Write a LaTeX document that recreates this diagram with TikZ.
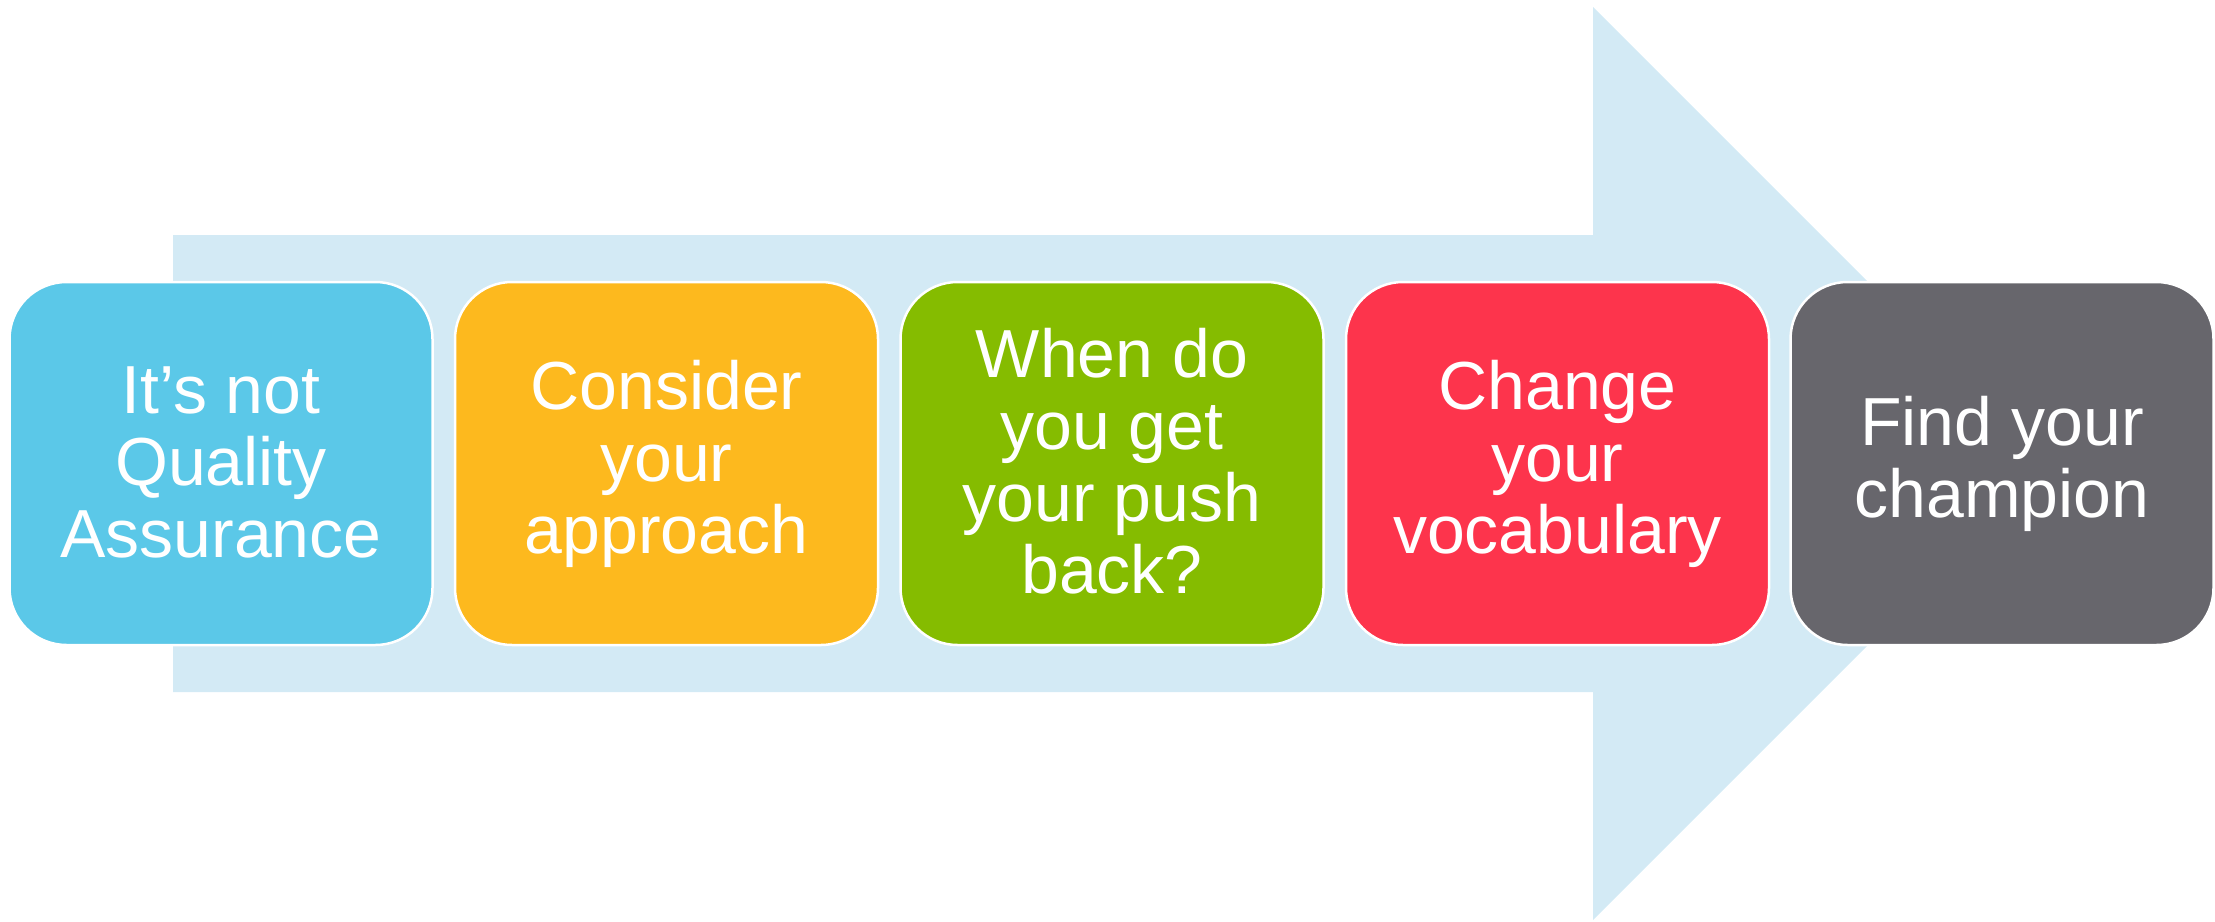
\documentclass[tikz,border=0pt]{standalone}
\usepackage{fontspec}
\setmainfont{Liberation Sans}
\definecolor{arrowblue}{HTML}{D3EAF5}
\definecolor{cblue}{HTML}{5BC8E8}
\definecolor{corange}{HTML}{FDB91E}
\definecolor{cgreen}{HTML}{85BC00}
\definecolor{cred}{HTML}{FD344C}
\definecolor{cgrey}{HTML}{67666C}
\newcommand{\fs}{\rule[-7pt]{0pt}{57pt}}
\tikzset{
  stepbox/.style={draw=white, line width=2.5pt, rounded corners=57pt,
    minimum width=423pt, minimum height=363pt, inner sep=0pt,
    align=center, text=white,
    font=\fontsize{68}{72}\selectfont},
  bigarrow/.style={fill=arrowblue, draw=none}
}
\begin{document}
\begin{tikzpicture}[x=1pt, y=-1pt]
  \useasboundingbox (0,0) rectangle (2215,921);
  \fill[bigarrow] (173,235) -- (1593,235) -- (1593,7) -- (2049.5,463.5)
    -- (1593,920) -- (1593,692) -- (173,692) -- cycle;
  \node[stepbox, fill=cblue]   (b1) at (221,463.5)    {\fs It’s not\\Quality\\Assurance\fs};
  \node[stepbox, fill=corange] (b2) at (666.5,463.5)  {\fs Consider\\your\\approach\fs};
  \node[stepbox, fill=cgreen]  (b3) at (1112,463.5)   {\fs When do\\you get\\your push\\back?\fs};
  \node[stepbox, fill=cred]    (b4) at (1557.5,463.5) {\fs Change\\your\\vocabulary\fs};
  \node[stepbox, fill=cgrey]   (b5) at (2002,463.5)   {\fs Find your\\champion\fs};
\end{tikzpicture}
\end{document}
